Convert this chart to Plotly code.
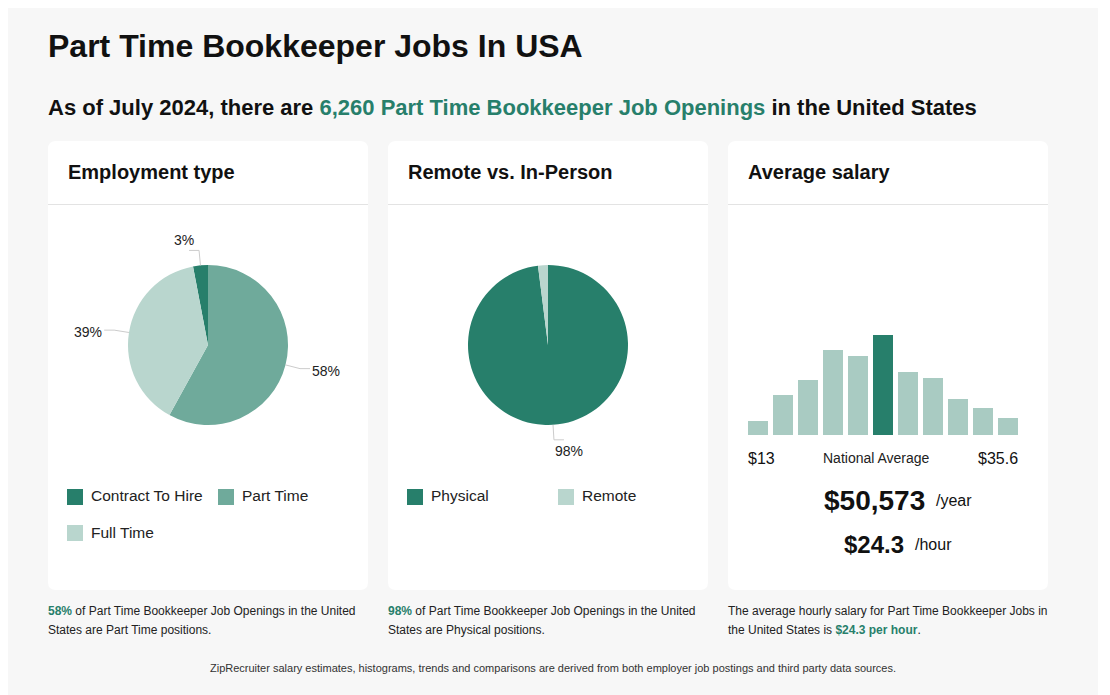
import math
import plotly.graph_objects as go

W, H = 1090, 687
OFF = 8  # page margin around the figure

# ---------------- data ----------------
emp_labels = ["Contract To Hire", "Part Time", "Full Time"]
emp_values = [3, 58, 39]
emp_colors = ["#277f6b", "#6faa9b", "#b9d6ce"]

loc_labels = ["Physical", "Remote"]
loc_values = [98, 2]
loc_colors = ["#277f6b", "#b9d6ce"]
loc_show_label = [True, False]

hist_bins = list(range(11))
hist_values = [14, 40, 55, 85, 79, 100, 63, 57, 36, 27, 17]
hist_highlight = 5
hist_dark = "#277f6b"
hist_light = "#a9cbc2"

salary_min = "$13"
salary_max = "$35.6"
salary_year = "$50,573"
salary_hour = "$24.3"
job_openings = "6,260"

GREEN = "#277f6b"
FONT = "Liberation Sans, Arial, sans-serif"


def X(px):
    return (px - OFF) / W


def Y(py):
    return 1 - (py - OFF) / H


shapes = []
annotations = []


def rounded_rect(x0, y0, x1, y1, r, fill):
    p = (f"M {X(x0 + r)} {Y(y0)} L {X(x1 - r)} {Y(y0)} Q {X(x1)} {Y(y0)} {X(x1)} {Y(y0 + r)} "
         f"L {X(x1)} {Y(y1 - r)} Q {X(x1)} {Y(y1)} {X(x1 - r)} {Y(y1)} "
         f"L {X(x0 + r)} {Y(y1)} Q {X(x0)} {Y(y1)} {X(x0)} {Y(y1 - r)} "
         f"L {X(x0)} {Y(y0 + r)} Q {X(x0)} {Y(y0)} {X(x0 + r)} {Y(y0)} Z")
    shapes.append(dict(type="path", xref="paper", yref="paper", path=p,
                       fillcolor=fill, line=dict(width=0), layer="below"))


def text(x, y, s, size, color="#111", xanchor="left", yanchor="middle", bold=False):
    if bold:
        s = f"<b>{s}</b>"
    shift = {"left": -2, "right": 2, "center": 0}[xanchor]
    annotations.append(dict(x=X(x), y=Y(y), xref="paper", yref="paper", text=s,
                            showarrow=False, xanchor=xanchor, yanchor=yanchor, xshift=shift,
                            font=dict(size=size, color=color, family=FONT)))


# cards
card_x = [48, 388, 728]
card_titles = ["Employment type", "Remote vs. In-Person", "Average salary"]
for cx, t in zip(card_x, card_titles):
    rounded_rect(cx, 141, cx + 320, 590, 8, "white")
    shapes.append(dict(type="line", xref="paper", yref="paper", x0=X(cx), x1=X(cx + 320),
                       y0=Y(204.5), y1=Y(204.5), line=dict(color="#e3e3e3", width=1)))
    text(cx + 20, 172, t, 20, "#111", bold=True)

# titles
text(48, 46, "Part Time Bookkeeper Jobs In USA", 32, "#111", bold=True)
text(48, 107, f"As of July 2024, there are <span style='color:{GREEN}'>{job_openings} Part Time Bookkeeper Job Openings</span> in the United States",
     22, "#111", bold=True)

fig = go.Figure()

R = 80


def add_pie(labels, values, colors, cx, cy, rotation, show):
    fig.add_trace(go.Pie(labels=labels, values=values, sort=False, direction="clockwise",
                         rotation=rotation, textinfo="none", showlegend=False,
                         marker=dict(colors=colors, line=dict(width=0)),
                         domain=dict(x=[X(cx - R), X(cx + R)], y=[Y(cy + R), Y(cy - R)])))
    total = sum(values)
    start = rotation
    for v, s in zip(values, show):
        ang = start + v / total * 180
        start += v / total * 360
        if not s:
            continue
        a = math.radians(ang)
        dx, dy = math.sin(a), -math.cos(a)
        p0 = (cx + R * dx, cy + R * dy)
        p1 = (cx + (R + 15) * dx, cy + (R + 15) * dy)
        side = 1 if dx >= 0 else -1
        p2 = (p1[0] + side * 10, p1[1])
        shapes.append(dict(type="path", xref="paper", yref="paper",
                           path=f"M {X(p0[0])} {Y(p0[1])} L {X(p1[0])} {Y(p1[1])} L {X(p2[0])} {Y(p2[1])}",
                           line=dict(color="#cccccc", width=1)))
        lab = f"{round(v / total * 100)}%"
        if abs(dy) > 0.9:
            text(p2[0] + side * 5, p2[1] + (11 if dy > 0 else -10), lab, 14, "#222", xanchor="center")
        else:
            text(p2[0] + side * 2, p2[1] + 2, lab, 14, "#222",
                 xanchor="left" if side > 0 else "right")


add_pie(emp_labels, emp_values, emp_colors, 208, 345, -emp_values[0] / sum(emp_values) * 360,
        [True] * len(emp_values))
add_pie(loc_labels, loc_values, loc_colors, 548, 345, 0, loc_show_label)


def legend(labels, colors, x0, y0):
    for i, (lab, col) in enumerate(zip(labels, colors)):
        lx = x0 + (i % 2) * 151
        ly = y0 + (i // 2) * 36
        shapes.append(dict(type="rect", xref="paper", yref="paper", x0=X(lx), x1=X(lx + 16),
                           y0=Y(ly + 16), y1=Y(ly), fillcolor=col, line=dict(width=0)))
        text(lx + 24, ly + 7, lab, 15.5, "#222")


legend(emp_labels, emp_colors, 67, 489)
legend(loc_labels, loc_colors, 407, 489)

# histogram
fig.add_trace(go.Bar(x=hist_bins, y=hist_values, showlegend=False,
                     marker=dict(color=[hist_dark if i == hist_highlight else hist_light for i in hist_bins],
                                 line=dict(width=0))))

text(748, 458, salary_min, 16, "#111")
text(876, 458, "National Average", 14, "#222", xanchor="center")
text(1018, 458, salary_max, 16, "#111", xanchor="right")
text(925, 500, salary_year, 28, "#111", xanchor="right", bold=True)
text(936, 500, "/year", 16, "#111")
text(904, 544, salary_hour, 24, "#111", xanchor="right", bold=True)
text(915, 544, "/hour", 16, "#111")

# bottom captions
g = lambda s: f"<b><span style='color:{GREEN}'>{s}</span></b>"
captions = [
    (48, [f"{g('58%')} of Part Time Bookkeeper Job Openings in the United", "States are Part Time positions."]),
    (388, [f"{g('98%')} of Part Time Bookkeeper Job Openings in the United", "States are Physical positions."]),
    (728, ["The average hourly salary for Part Time Bookkeeper Jobs in", f"the United States is {g('$24.3 per hour')}."]),
]
for cx, lines in captions:
    for j, ln in enumerate(lines):
        text(cx, 611 + j * 19, ln, 12, "#222")

text(553, 668, "ZipRecruiter salary estimates, histograms, trends and comparisons are derived from both employer job postings and third party data sources.",
     11, "#333", xanchor="center")

fig.update_layout(
    width=W, height=H, margin=dict(l=0, r=0, t=0, b=0),
    paper_bgcolor="#f7f7f7", plot_bgcolor="rgba(0,0,0,0)",
    font=dict(family=FONT),
    xaxis=dict(domain=[X(745.5), X(1020.5)], range=[-0.5, len(hist_bins) - 0.5], visible=False, fixedrange=True),
    yaxis=dict(domain=[Y(435), Y(335)], range=[0, max(hist_values)], visible=False, fixedrange=True),
    bargap=0.2,
    shapes=shapes, annotations=annotations, showlegend=False,
)

fig.write_html("out.html")
